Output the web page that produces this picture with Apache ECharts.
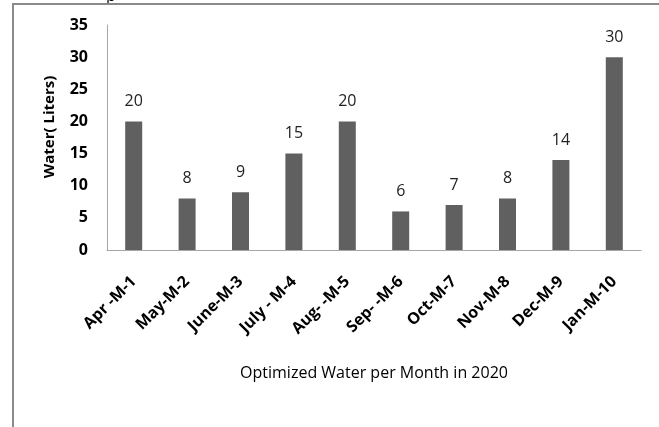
<!DOCTYPE html>
<html>
<head>
<meta charset="utf-8">
<script src="https://cdn.jsdelivr.net/npm/echarts@6/dist/echarts.min.js"></script>
<style>
html,body{margin:0;padding:0;background:#fff;}
#chart{width:659px;height:427px;}
</style>
</head>
<body>
<div id="chart"></div>
<script>
const categories = ['Apr -M-1','May-M-2','June-M-3','July - M-4','Aug- -M-5','Sep- -M-6','Oct-M-7','Nov-M-8','Dec-M-9','Jan-M-10'];
const waterValues = [20, 8, 9, 15, 20, 6, 7, 8, 14, 30];
const yTicks = [0, 5, 10, 15, 20, 25, 30, 35];
const xTitle = 'Optimized Water per Month in 2020';
const yTitle = 'Water( Liters)';

const FONT = '"Open Sans", "Liberation Sans", sans-serif';
const chart = echarts.init(document.getElementById('chart'), null, {renderer: 'canvas'});
chart.setOption({
  animation: false,
  backgroundColor: '#ffffff',
  grid: {left: 107, right: 18, top: 25, bottom: 177, containLabel: false},
  xAxis: {
    type: 'category',
    data: categories,
    axisLine: {show: true, lineStyle: {color: '#a6a6a6', width: 1}},
    axisTick: {show: false},
    axisLabel: {
      rotate: 45, interval: 0, margin: 29,
      color: '#000', fontFamily: FONT, fontWeight: 'bold', fontSize: 16
    },
    name: xTitle,
    nameLocation: 'middle',
    nameGap: 115,
    nameTextStyle: {color: '#000', fontFamily: FONT, fontSize: 16}
  },
  yAxis: {
    type: 'value',
    min: yTicks[0], max: yTicks[yTicks.length - 1], interval: 5,
    axisLine: {show: true, lineStyle: {color: '#a6a6a6', width: 1}},
    axisTick: {show: false},
    splitLine: {show: false},
    axisLabel: {margin: 19, color: '#000', fontFamily: FONT, fontWeight: 'bold', fontSize: 16}
  },
  series: [{
    type: 'bar',
    data: waterValues,
    barWidth: 17,
    itemStyle: {color: '#606060'},
    label: {
      show: true, position: 'top', distance: 12,
      color: '#222', fontFamily: FONT, fontSize: 16
    }
  }],
  graphic: [
    {type: 'text', z: 10, x: 50, y: 127, rotation: Math.PI / 2, style: {
      text: yTitle, x: 0, y: 0, align: 'center', verticalAlign: 'middle',
      font: 'bold 15px ' + FONT, fill: '#000'
    }},
    {type: 'text', z: 5, style: {
      text: 'p', x: 106, y: 4, verticalAlign: 'bottom', font: '16px ' + FONT, fill: '#000'
    }},
    {type: 'line', z: 20, shape: {x1: 13, y1: 4, x2: 659, y2: 4}, style: {stroke: '#8a8a8a', lineWidth: 2}},
    {type: 'line', z: 20, shape: {x1: 13, y1: 3, x2: 13, y2: 427}, style: {stroke: '#8a8a8a', lineWidth: 2}}
  ]
});
</script>
</body>
</html>
